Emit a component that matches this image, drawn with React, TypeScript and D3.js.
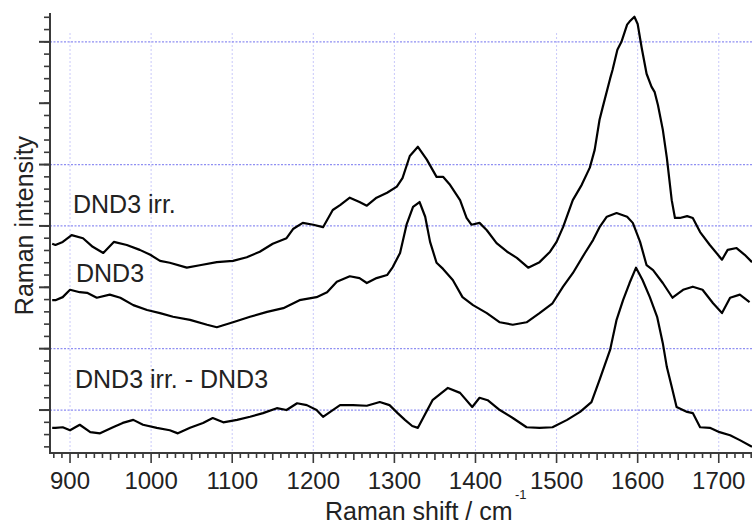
import React from "react";
import * as d3 from "d3";

// Raman shift (cm^-1) and intensity (arb. units)
const dnd3Irr: [number, number][] = [
  [878, 3.71], [882, 3.69], [891, 3.74], [902, 3.85], [916, 3.8], [928, 3.66], [941, 3.56],
  [954, 3.74], [970, 3.69], [986, 3.61], [999, 3.53], [1011, 3.43], [1023, 3.4], [1044, 3.32],
  [1060, 3.36], [1081, 3.41], [1101, 3.43], [1118, 3.49], [1134, 3.58], [1150, 3.71], [1167, 3.8],
  [1175, 3.95], [1187, 4.05], [1200, 4.02], [1212, 3.98], [1224, 4.26], [1233, 4.34], [1245, 4.46],
  [1257, 4.39], [1266, 4.33], [1278, 4.46], [1291, 4.54], [1303, 4.64], [1310, 4.78], [1319, 5.14],
  [1329, 5.29], [1340, 5.08], [1352, 4.8], [1360, 4.8], [1368, 4.68], [1381, 4.42], [1389, 4.13],
  [1395, 4.02], [1405, 4.05], [1414, 3.93], [1426, 3.72], [1439, 3.58], [1451, 3.48], [1465, 3.32],
  [1479, 3.41], [1492, 3.58], [1500, 3.74], [1508, 3.98], [1520, 4.42], [1531, 4.67], [1541, 4.95],
  [1547, 5.24], [1553, 5.73], [1557, 5.94], [1566, 6.4], [1569, 6.54], [1575, 6.87], [1580, 7.0],
  [1587, 7.28], [1590, 7.33], [1596, 7.41], [1600, 7.29], [1605, 6.9], [1611, 6.48], [1617, 6.27],
  [1621, 6.18], [1625, 5.97], [1631, 5.57], [1636, 5.11], [1642, 4.42], [1646, 4.13], [1652, 4.13],
  [1661, 4.16], [1668, 4.13], [1677, 3.9], [1689, 3.69], [1704, 3.45], [1711, 3.61], [1722, 3.64],
  [1732, 3.53], [1741, 3.41],
];

const dnd3: [number, number][] = [
  [878, 2.79], [882, 2.79], [891, 2.84], [900, 2.96], [912, 2.92], [921, 2.91], [933, 2.83],
  [949, 2.88], [962, 2.83], [978, 2.71], [995, 2.63], [1011, 2.58], [1027, 2.52], [1048, 2.47],
  [1069, 2.39], [1081, 2.35], [1101, 2.43], [1122, 2.52], [1143, 2.6], [1163, 2.66], [1183, 2.79],
  [1204, 2.84], [1217, 2.92], [1229, 3.09], [1245, 3.18], [1257, 3.15], [1266, 3.07], [1278, 3.15],
  [1291, 3.2], [1298, 3.33], [1307, 3.56], [1315, 4.02], [1323, 4.31], [1331, 4.39], [1338, 4.15],
  [1344, 3.74], [1352, 3.4], [1360, 3.3], [1372, 3.12], [1384, 2.84], [1397, 2.71], [1414, 2.58],
  [1430, 2.43], [1446, 2.39], [1463, 2.43], [1479, 2.58], [1495, 2.74], [1508, 3.01], [1520, 3.23],
  [1535, 3.56], [1545, 3.77], [1553, 3.98], [1562, 4.15], [1574, 4.21], [1587, 4.15], [1594, 4.05],
  [1603, 3.74], [1611, 3.36], [1619, 3.28], [1631, 3.07], [1643, 2.83], [1656, 2.96], [1668, 3.01],
  [1680, 2.96], [1693, 2.74], [1704, 2.58], [1714, 2.83], [1726, 2.88], [1738, 2.76],
];

const difference: [number, number][] = [
  [878, 0.71], [882, 0.71], [891, 0.72], [900, 0.67], [912, 0.76], [925, 0.64], [937, 0.62],
  [953, 0.72], [965, 0.79], [978, 0.84], [990, 0.76], [1007, 0.71], [1023, 0.67], [1033, 0.62],
  [1048, 0.71], [1064, 0.79], [1076, 0.87], [1089, 0.8], [1106, 0.84], [1122, 0.89], [1138, 0.95],
  [1155, 1.03], [1167, 1.0], [1180, 1.11], [1192, 1.08], [1204, 1.0], [1212, 0.89], [1224, 1.0],
  [1233, 1.08], [1249, 1.08], [1266, 1.07], [1282, 1.13], [1294, 1.08], [1304, 0.95], [1313, 0.84],
  [1322, 0.74], [1329, 0.71], [1347, 1.16], [1366, 1.36], [1381, 1.28], [1396, 1.05], [1405, 1.2],
  [1415, 1.16], [1430, 1.0], [1446, 0.87], [1463, 0.72], [1479, 0.71], [1495, 0.72], [1513, 0.84],
  [1529, 0.97], [1543, 1.13], [1553, 1.49], [1566, 1.98], [1574, 2.47], [1582, 2.79], [1590, 3.07],
  [1598, 3.32], [1606, 3.12], [1615, 2.84], [1624, 2.52], [1631, 2.09], [1636, 1.7], [1642, 1.38],
  [1648, 1.05], [1661, 0.97], [1668, 0.95], [1677, 0.72], [1689, 0.71], [1701, 0.64], [1714, 0.59],
  [1726, 0.51], [1741, 0.4],
];

const xTickValues = [900, 1000, 1100, 1200, 1300, 1400, 1500, 1600, 1700];
const yGridValues = [1, 2, 4, 5, 7];
const seriesLabels = ["DND3 irr.", "DND3", "DND3 irr. - DND3"];
const xAxisTitle = "Raman shift / cm";
const yAxisTitle = "Raman intensity";

const W = 752;
const H = 526;
const left = 50;
const right = 752;
const top = 13;
const bottom = 453;
const FONT = "'Liberation Sans', Arial, Helvetica, sans-serif";

export default function App() {
  const x = d3.scaleLinear().domain([875.3, 1741]).range([left, right]);
  const y = d3.scaleLinear().domain([0.3, 7.47]).range([bottom, top]);
  const line = d3
    .line<[number, number]>()
    .x((d) => x(d[0]))
    .y((d) => y(d[1]));

  const xMinor = d3.range(880, 1750, 10);
  const yMinor = d3.range(0.4, 7.46, 0.2);
  const yMajor = d3.range(1, 8, 1);
  const axisColor = "#3a3a3a";

  const labelPos = [
    { v: seriesLabels[0], x: 73, y: 213 },
    { v: seriesLabels[1], x: 76, y: 282 },
    { v: seriesLabels[2], x: 75, y: 388 },
  ];

  return (
    <svg
      width={W}
      height={H}
      viewBox={`0 0 ${W} ${H}`}
      style={{ position: "absolute", left: 0, top: 0, background: "#fff" }}
    >
      <rect x={0} y={0} width={W} height={H} fill="#fff" />
      <defs>
        <clipPath id="plotclip">
          <rect x={left} y={0} width={right - left} height={bottom} />
        </clipPath>
      </defs>

      {/* vertical grid */}
      {xTickValues.map((t) => (
        <line
          key={"vg" + t}
          x1={x(t)}
          x2={x(t)}
          y1={top + 20}
          y2={bottom}
          stroke="#c9c9fa"
          strokeWidth={1}
          strokeDasharray="2 2"
        />
      ))}
      {/* horizontal grid */}
      {yGridValues.map((v) => (
        <line
          key={"hg" + v}
          x1={left}
          x2={right}
          y1={y(v)}
          y2={y(v)}
          stroke="#8f8ff2"
          strokeWidth={1.2}
          strokeDasharray="2 1.5"
        />
      ))}

      {/* curves */}
      <g clipPath="url(#plotclip)" fill="none" stroke="#000" strokeWidth={2.2} strokeLinejoin="round">
        <path d={line(dnd3Irr) ?? ""} />
        <path d={line(dnd3) ?? ""} />
        <path d={line(difference) ?? ""} />
      </g>

      {/* axes */}
      <line x1={left} x2={left} y1={top} y2={bottom} stroke={axisColor} strokeWidth={2} />
      <line x1={left - 1} x2={right} y1={bottom} y2={bottom} stroke={axisColor} strokeWidth={2} />

      {xMinor.map((t) => {
        const len = t % 100 === 0 ? 10 : t % 50 === 0 ? 7 : 5;
        return (
          <line
            key={"xt" + t}
            x1={x(t)}
            x2={x(t)}
            y1={bottom}
            y2={bottom + len}
            stroke={axisColor}
            strokeWidth={1.6}
          />
        );
      })}
      {yMinor.map((v) => (
        <line
          key={"ymt" + v}
          x1={left - 6}
          x2={left}
          y1={y(v)}
          y2={y(v)}
          stroke={axisColor}
          strokeWidth={1.6}
        />
      ))}
      {yMajor.map((v) => (
        <line
          key={"yMt" + v}
          x1={left - 11}
          x2={left}
          y1={y(v)}
          y2={y(v)}
          stroke={axisColor}
          strokeWidth={2}
        />
      ))}

      {/* tick labels */}
      {xTickValues.map((t) => (
        <text
          key={"xl" + t}
          x={x(t)}
          y={489}
          textAnchor="middle"
          fontFamily={FONT}
          fontSize={24}
          fill="#222"
        >
          {t}
        </text>
      ))}

      {/* axis titles */}
      <text x={325} y={520} fontFamily={FONT} fontSize={25} fill="#222">
        {xAxisTitle}
      </text>
      <text x={515} y={499} fontFamily={FONT} fontSize={13} fill="#222">
        -1
      </text>
      <text
        transform="translate(33,225.5) rotate(-90)"
        textAnchor="middle"
        fontFamily={FONT}
        fontSize={25}
        fill="#222"
      >
        {yAxisTitle}
      </text>

      {/* series labels */}
      {labelPos.map((l) => (
        <text key={l.v} x={l.x} y={l.y} fontFamily={FONT} fontSize={25} fill="#222">
          {l.v}
        </text>
      ))}
    </svg>
  );
}
